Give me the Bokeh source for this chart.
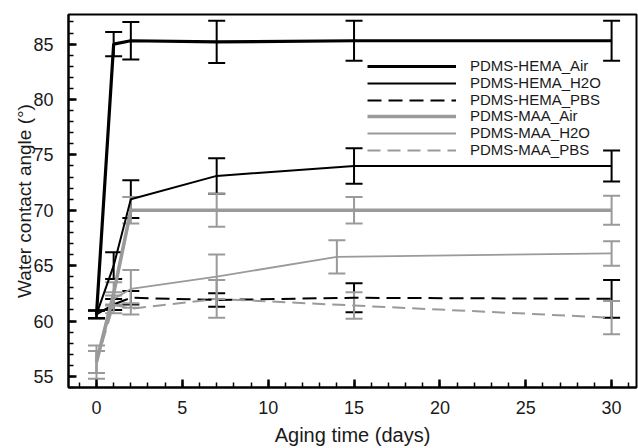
from bokeh.plotting import figure
from bokeh.models import (ColumnDataSource, Whisker, TeeHead, Legend, LegendItem,
                          Range1d, SingleIntervalTicker)
from bokeh.embed import file_html
from bokeh.resources import INLINE

# ---- data ----
days = [0, 1, 2, 7, 15, 30]
days_maa_h2o = [0, 1, 2, 7, 14, 30]

hema_air = [60.6, 85.0, 85.3, 85.2, 85.3, 85.3]
hema_air_err = [0.35, 1.1, 1.7, 1.9, 1.8, 1.8]
hema_h2o = [60.6, 65.0, 71.0, 73.1, 74.0, 74.0]
hema_h2o_err = [0.35, 1.2, 1.7, 1.6, 1.6, 1.4]
hema_pbs = [60.6, 61.5, 62.1, 61.9, 62.1, 62.0]
hema_pbs_err = [0.35, 0.5, 0.6, 0.6, 1.3, 1.7]

maa_air = [56.3, 62.5, 70.0, 70.0, 70.0, 70.0]
maa_air_err = [1.5, 1.0, 1.2, 1.5, 1.2, 1.3]
maa_h2o = [56.3, 62.0, 62.9, 64.0, 65.8, 66.1]
maa_h2o_err = [1.0, 0.6, 1.7, 2.0, 1.5, 1.1]
maa_pbs = [56.3, 61.5, 61.1, 62.0, 61.4, 60.3]
maa_pbs_err = [1.0, 0.8, 0.5, 1.7, 1.2, 1.5]

labels = ["PDMS-HEMA_Air", "PDMS-HEMA_H2O", "PDMS-HEMA_PBS",
          "PDMS-MAA_Air", "PDMS-MAA_H2O", "PDMS-MAA_PBS"]

GRAY = "#9a9a9a"
FONT = "Liberation Sans"

series = [
    (days, hema_air, hema_air_err, "black", 3.2, "solid"),
    (days, hema_h2o, hema_h2o_err, "black", 2.0, "solid"),
    (days, hema_pbs, hema_pbs_err, "black", 2.0, "14 7"),
    (days, maa_air, maa_air_err, GRAY, 3.6, "solid"),
    (days_maa_h2o, maa_h2o, maa_h2o_err, GRAY, 1.8, "solid"),
    (days, maa_pbs, maa_pbs_err, GRAY, 2.0, "13 7"),
]

p = figure(width=638, height=448, output_backend="svg", toolbar_location=None,
           x_range=Range1d(-1.63, 31.45), y_range=Range1d(54.0, 87.67),
           min_border_left=68, min_border_right=2, min_border_top=14,
           min_border_bottom=56)

p.xgrid.visible = False
p.ygrid.visible = False
p.outline_line_color = "black"
p.outline_line_width = 2
p.background_fill_color = "white"
p.border_fill_color = "white"

p.xaxis.ticker = SingleIntervalTicker(interval=5, num_minor_ticks=5)
p.yaxis.ticker = SingleIntervalTicker(interval=5, num_minor_ticks=5)

for ax in (p.xaxis, p.yaxis):
    ax.axis_line_width = 2
    ax.axis_line_color = "black"
    ax.major_tick_in = 8
    ax.major_tick_out = 0
    ax.major_tick_line_width = 2.5
    ax.minor_tick_in = 5
    ax.minor_tick_out = 0
    ax.minor_tick_line_width = 1.5
    ax.major_label_text_font = FONT
    ax.major_label_text_font_size = "18px"
    ax.major_label_text_color = "#1a1a1a"
    ax.axis_label_text_font = FONT
    ax.axis_label_text_font_style = "normal"
    ax.axis_label_text_color = "#1a1a1a"

p.xaxis.axis_label_text_font_size = "20px"
p.yaxis.axis_label_text_font_size = "19px"
p.xaxis.axis_label = "Aging time (days)"
p.yaxis.axis_label = "Water contact angle (°)"
p.yaxis.major_label_standoff = 15
p.xaxis.major_label_standoff = 13
p.yaxis.axis_label_standoff = -5
p.xaxis.axis_label_standoff = 7

row_step = 16.8
first_offset = 313  # legend-box offset of the first row from the frame bottom

for i, ((xs, ys, es, col, lw, dash), lab) in enumerate(zip(series, labels)):
    src = ColumnDataSource(dict(x=xs, y=ys,
                                lo=[a - b for a, b in zip(ys, es)],
                                hi=[a + b for a, b in zip(ys, es)]))
    r = p.line("x", "y", source=src, line_color=col, line_width=lw, line_dash=dash)
    ew = 2.0
    w = Whisker(base="x", upper="hi", lower="lo", source=src, dimension="height",
                line_color=col, line_width=ew,
                upper_head=TeeHead(size=17, line_color=col, line_width=ew),
                lower_head=TeeHead(size=17, line_color=col, line_width=ew))
    p.add_layout(w)
    leg = Legend(items=[LegendItem(label=lab, renderers=[r])],
                 location=(299, round(first_offset - i * row_step)),
                 padding=0, margin=0, spacing=0,
                 glyph_width=89, glyph_height=16, label_height=16,
                 label_standoff=14, border_line_color=None,
                 background_fill_alpha=0,
                 label_text_font=FONT, label_text_font_size="15px",
                 label_text_color="#1a1a1a")
    p.add_layout(leg)

open("out.html", "w").write(file_html(p, INLINE))
